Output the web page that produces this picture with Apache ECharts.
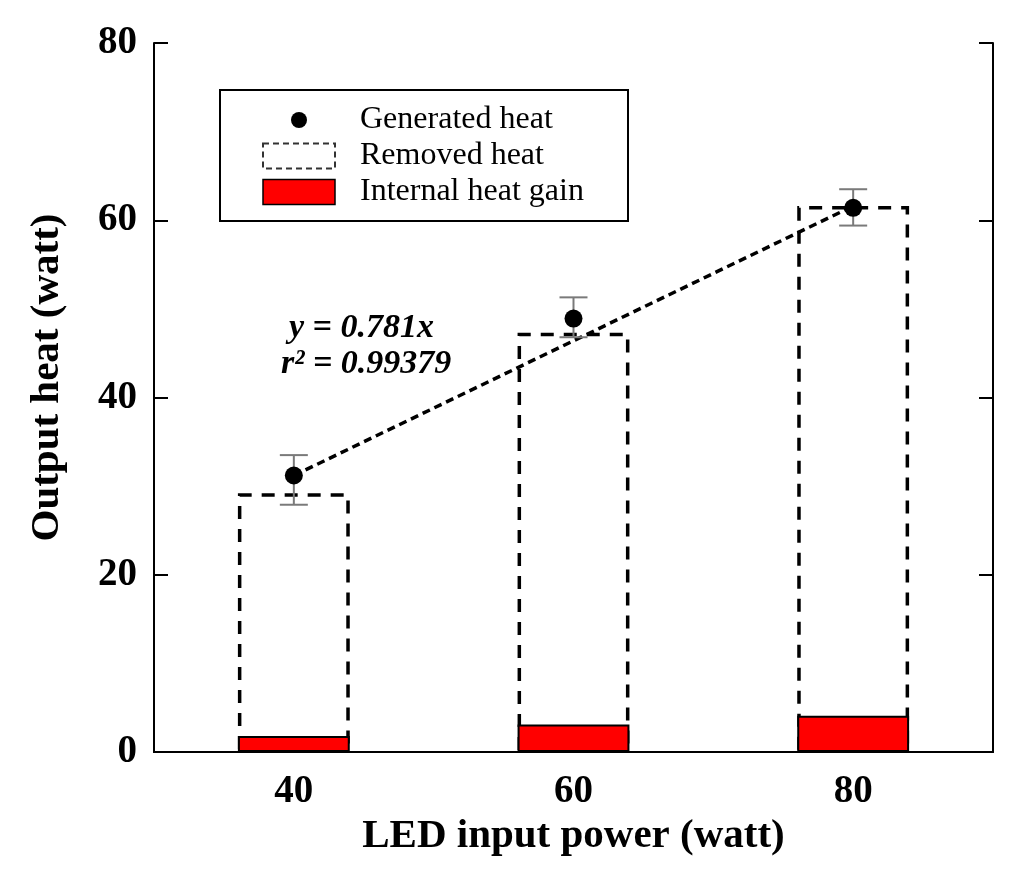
<!DOCTYPE html>
<html>
<head>
<meta charset="utf-8">
<script src="https://cdn.jsdelivr.net/npm/echarts@6/dist/echarts.min.js"></script>
<style>html,body{margin:0;padding:0;background:#fff;}#chart{width:1024px;height:878px;}</style>
</head>
<body>
<div id="chart"></div>
<script>
// Data
var categories = ['40', '60', '80'];
var generatedHeat = [31.2, 48.9, 61.4];
var errorLow = [27.9, 46.8, 59.4];
var errorHigh = [33.5, 51.3, 63.5];
var removedHeat = [29.2, 47.3, 61.6];
var internalHeatGain = [1.8, 3.1, 4.1];
var fitLine = [31.2, null, 61.6];
var yTicks = [0, 20, 40, 60, 80];
var equationLines = ['y = 0.781x', 'r\u00B2 = 0.99379'];

var serif = '"Liberation Serif", "Times New Roman", serif';
var chart = echarts.init(document.getElementById('chart'));

var errData = categories.map(function (c, i) { return [i, errorLow[i], errorHigh[i]]; });

var axisLineStyle = { color: '#000', width: 2 };

var option = {
  animation: false,
  backgroundColor: '#fff',
  grid: { left: 154, right: 31, top: 43, bottom: 126 },
  legend: {
    orient: 'vertical',
    left: 220,
    top: 90,
    padding: [14, 36, 13, 42],
    borderColor: '#000',
    borderWidth: 2,
    itemWidth: 72,
    itemHeight: 25,
    itemGap: 4,
    selectedMode: false,
    textStyle: { fontFamily: serif, fontSize: 32, color: '#000', lineHeight: 30, padding: [0, 0, 0, 20], width: 232 },
    data: [
      { name: 'Generated heat', icon: 'path://M0,0 M72,25 M28,12.5 A8,8 0 1,1 44,12.5 A8,8 0 1,1 28,12.5 Z', itemStyle: { color: '#000', opacity: 1 } },
      { name: 'Removed heat', icon: 'rect', itemStyle: { color: 'rgba(255,255,255,0)', borderColor: '#333', borderWidth: 2, borderType: [6, 4] } },
      { name: 'Internal heat gain', icon: 'rect', itemStyle: { color: '#ff0000', borderColor: '#000', borderWidth: 1.5 } }
    ]
  },
  xAxis: [
    {
      type: 'category',
      data: categories,
      position: 'bottom',
      axisLine: { lineStyle: axisLineStyle },
      axisTick: { inside: true, alignWithLabel: true, length: 14, lineStyle: axisLineStyle },
      axisLabel: { fontFamily: serif, fontWeight: 'bold', fontSize: 39, color: '#000', margin: 20 },
      name: 'LED input power (watt)',
      nameLocation: 'middle',
      nameGap: 62,
      nameTextStyle: { fontFamily: serif, fontWeight: 'bold', fontSize: 41, color: '#000' }
    },
    {
      type: 'category',
      data: categories,
      position: 'top',
      axisLine: { lineStyle: axisLineStyle },
      axisTick: { inside: true, alignWithLabel: true, length: 14, lineStyle: axisLineStyle },
      axisLabel: { show: false }
    }
  ],
  yAxis: [
    {
      type: 'value',
      min: yTicks[0],
      max: yTicks[yTicks.length - 1],
      interval: 20,
      position: 'left',
      splitLine: { show: false },
      axisLine: { show: true, lineStyle: axisLineStyle },
      axisTick: { show: true, inside: true, length: 14, lineStyle: axisLineStyle },
      axisLabel: { fontFamily: serif, fontWeight: 'bold', fontSize: 39, color: '#000', margin: 17 },
      name: 'Output heat (watt)',
      nameLocation: 'middle',
      nameGap: 86,
      nameRotate: 90,
      nameTextStyle: { fontFamily: serif, fontWeight: 'bold', fontSize: 41, color: '#000', padding: [0, 0, 0, 40] }
    },
    {
      type: 'value',
      min: yTicks[0],
      max: yTicks[yTicks.length - 1],
      interval: 20,
      position: 'right',
      splitLine: { show: false },
      axisLine: { show: true, lineStyle: axisLineStyle },
      axisTick: { show: true, inside: true, length: 14, lineStyle: axisLineStyle },
      axisLabel: { show: false }
    }
  ],
  series: [
    {
      name: 'Removed heat',
      type: 'bar',
      data: removedHeat,
      barWidth: '40%',
      barGap: '-100%',
      z: 2,
      itemStyle: { color: 'rgba(255,255,255,0)', borderColor: '#000', borderWidth: 3.5, borderType: [13, 10] }
    },
    {
      name: 'Internal heat gain',
      type: 'bar',
      data: internalHeatGain,
      barWidth: '40%',
      barGap: '-100%',
      z: 3,
      itemStyle: { color: '#ff0000', borderColor: '#000', borderWidth: 2 }
    },
    {
      name: 'fit',
      type: 'line',
      data: fitLine,
      connectNulls: true,
      symbol: 'none',
      z: 4,
      lineStyle: { color: '#000', width: 3.5, type: [8, 5] }
    },
    {
      name: 'error',
      type: 'custom',
      data: errData,
      z: 5,
      renderItem: function (params, api) {
        var x = api.value(0);
        var lo = api.coord([x, api.value(1)]);
        var hi = api.coord([x, api.value(2)]);
        var hw = 14;
        var st = { stroke: '#7a7a7a', lineWidth: 2 };
        return {
          type: 'group',
          children: [
            { type: 'line', shape: { x1: lo[0], y1: lo[1], x2: hi[0], y2: hi[1] }, style: st },
            { type: 'line', shape: { x1: lo[0] - hw, y1: lo[1], x2: lo[0] + hw, y2: lo[1] }, style: st },
            { type: 'line', shape: { x1: hi[0] - hw, y1: hi[1], x2: hi[0] + hw, y2: hi[1] }, style: st }
          ]
        };
      }
    },
    {
      name: 'Generated heat',
      type: 'scatter',
      data: generatedHeat,
      symbol: 'circle',
      symbolSize: 18,
      z: 6,
      itemStyle: { color: '#000', opacity: 1 }
    }
  ],
  graphic: [
    { type: 'text', left: 289, top: 311, style: { text: equationLines[0], font: 'italic bold 34px ' + serif, fill: '#000' } },
    { type: 'text', left: 281, top: 347, style: { text: equationLines[1], font: 'italic bold 34px ' + serif, fill: '#000' } }
  ]
};
chart.setOption(option);
</script>
</body>
</html>
